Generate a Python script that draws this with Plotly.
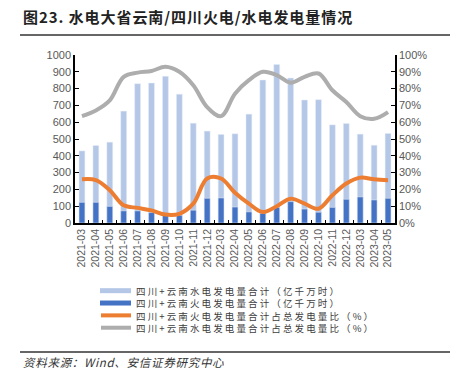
import plotly.graph_objects as go

months = ["2021-03","2021-04","2021-05","2021-06","2021-07","2021-08","2021-09","2021-10","2021-11","2021-12",
          "2022-03","2022-04","2022-05","2022-06","2022-07","2022-08","2022-09","2022-10","2022-11","2022-12",
          "2023-03","2023-04","2023-05"]
hydro = [429,461,481,666,829,833,873,767,594,547,527,531,648,851,944,863,732,734,584,592,529,463,533]
thermal = [123,123,99,72,72,62,46,46,76,147,149,95,66,58,93,127,83,64,93,141,155,137,147]
thermal_share = [26,25.5,19.5,10.5,9,7.5,5,5.5,11.5,26.5,26.5,18,11.5,6.5,10,14.5,11.5,8.5,16.5,23.5,27,26,25.5]
hydro_share = [63.6,67,73,87,89.5,90.5,93,90,82,69,63.6,77,85,90,88,83.5,87,89,79,72,63.6,62,66]

names = ["四川+云南水电发电量合计（亿千万时）","四川+云南火电发电量合计（亿千万时）",
         "四川+云南火电发电量合计占总发电量比（%）","四川+云南水电发电量合计占总发电量比（%）"]
title_text = "图23. 水电大省云南/四川火电/水电发电量情况"
source_text = "资料来源：Wind、安信证券研究中心"
c_light, c_dark, c_orange, c_gray = "#B4C7E7", "#4472C4", "#ED7D31", "#ADADAD"

W, H = 463, 383
L, R, T, B = 75, 68, 55, 160
pw, ph = W - L - R, H - T - B


def px(x):
    return (x - L) / pw


def py(y):
    return (H - B - y) / ph


def spaced(s, sp):
    return sp.join(list(s))


fig = go.Figure()
fig.add_trace(go.Bar(x=months, y=hydro, marker_color=c_light, width=0.42, name=names[0], showlegend=False))
fig.add_trace(go.Bar(x=months, y=thermal, marker_color=c_dark, width=0.42, name=names[1], showlegend=False))
fig.add_trace(go.Scatter(x=months, y=thermal_share, yaxis="y2", mode="lines", name=names[2],
                         line=dict(color=c_orange, width=4, shape="spline", smoothing=1.0), showlegend=False))
fig.add_trace(go.Scatter(x=months, y=hydro_share, yaxis="y2", mode="lines", name=names[3],
                         line=dict(color=c_gray, width=4, shape="spline", smoothing=1.0), showlegend=False))

# manual compact legend: one multi-line text block + symbols
leg_font = 9.5
leg_center = 309.2
lh = 1.3 * leg_font
leg_rows = [leg_center + (i - 1.5) * lh for i in range(4)]
shapes = []
for i, col in enumerate([c_light, c_dark, c_orange, c_gray]):
    yy = py(leg_rows[i])
    if i < 2:
        shapes.append(dict(type="rect", xref="paper", yref="paper", x0=px(100), x1=px(131),
                           y0=py(leg_rows[i] + 2.5), y1=py(leg_rows[i] - 2.5),
                           fillcolor=col, line=dict(width=0)))
    else:
        shapes.append(dict(type="line", xref="paper", yref="paper", x0=px(101), x1=px(131),
                           y0=yy, y1=yy, line=dict(color=col, width=4)))
annotations = [dict(text="<br>".join(spaced(n, " ") for n in names), xref="paper", yref="paper",
                    x=px(134), y=py(leg_center), xanchor="left", yanchor="middle", align="left",
                    showarrow=False, font=dict(family="Noto Sans CJK SC", size=leg_font, color="#404040"))]

shapes += [
    dict(type="line", xref="paper", yref="paper", x0=px(20), x1=px(450), y0=py(35), y1=py(35),
         line=dict(color="#333333", width=1.5)),
    dict(type="line", xref="paper", yref="paper", x0=px(20), x1=px(450), y0=py(352), y1=py(352),
         line=dict(color="#333333", width=1.5)),
]
annotations += [
    dict(text="<b>" + spaced(title_text, "\u200a") + "</b>", xref="paper", yref="paper",
         x=px(21), y=py(17), xanchor="left", yanchor="middle", showarrow=False,
         font=dict(family="Noto Sans CJK SC", size=15, color="#222222")),
    dict(text="<i>" + spaced(source_text, "\u200a") + "</i>", xref="paper", yref="paper",
         x=px(21), y=py(362), xanchor="left", yanchor="middle", showarrow=False,
         font=dict(family="Noto Sans CJK SC", size=11.5, color="#333333")),
]

tickfont = dict(family="Liberation Sans, Arial", size=11, color="#595959")
fig.update_layout(
    width=W, height=H, margin=dict(l=L, r=R, t=T, b=B, autoexpand=False),
    paper_bgcolor="white", plot_bgcolor="white", barmode="overlay", showlegend=False,
    xaxis=dict(type="category", tickangle=-90, tickfont=dict(family="Liberation Sans, Arial", size=10.5, color="#595959"),
               showline=True, linecolor="black", linewidth=1.5, ticks="inside", ticklen=3,
               tickcolor="black", showgrid=False, tickson="boundaries", automargin=False),
    yaxis=dict(range=[0, 1000], dtick=100, tickfont=tickfont, showline=True, linecolor="black",
               linewidth=1.5, ticks="inside", ticklen=4, tickcolor="black", showgrid=False, zeroline=False,
               automargin=False),
    yaxis2=dict(range=[0, 100], dtick=10, ticksuffix="%", overlaying="y", side="right", tickfont=tickfont,
                showline=True, linecolor="black", linewidth=1.5, ticks="inside", ticklen=4,
                tickcolor="black", showgrid=False, zeroline=False, automargin=False),
    annotations=annotations,
    shapes=shapes,
)
fig.write_html("out.html", config={"displayModeBar": False},
               post_script="document.body.style.margin='0';document.body.style.padding='0';")
